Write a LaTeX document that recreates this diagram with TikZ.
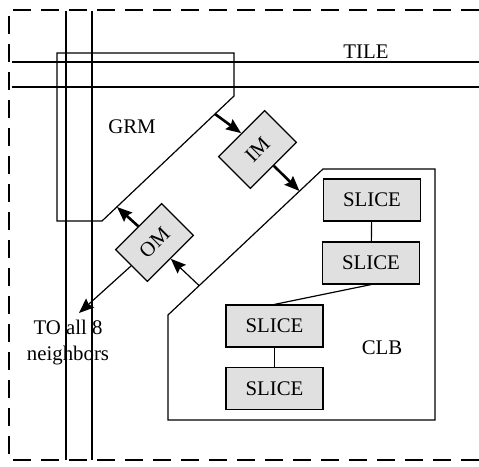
\documentclass[tikz,border=0pt]{standalone}
\usepackage{fontspec}
\setmainfont{Liberation Serif}
\usetikzlibrary{arrows.meta}

\begin{document}
\begin{tikzpicture}[x=0.5pt, y=-0.5pt, line width=0.6pt,
    every node/.style={font=\fontsize{10.4}{13}\selectfont},
    mod/.style={draw, fill=black!12, minimum width=32.5pt, minimum height=22.5pt, inner sep=0pt},
    slice/.style={draw, fill=black!12, minimum width=48.5pt, minimum height=21pt, inner sep=0pt},
    bus/.style={-{Stealth[length=7.5pt, width=6pt, inset=1pt]}, line width=1.3pt},
    link/.style={-{Stealth[length=7.5pt, width=6pt, inset=1pt]}}]
    % Keep the reference proportions (tile is open at the right)
    \useasboundingbox (0,0) rectangle (479,467);

    % Tile border
    \draw[dash pattern=on 9pt off 5pt] (479,10) -- (9,10) -- (9,460) -- (479,460);
    \node at (366,52) {TILE};

    % Routing wires
    \draw (66,11) -- (66,460);
    \draw (92,11) -- (92,460);
    \draw (12,62) -- (479,62);
    \draw (12,87) -- (479,87);

    % GRM outline
    \draw (57,53) -- (234,53) -- (234,96) -- (102,221) -- (57,221) -- cycle;
    \node at (132,127) {GRM};

    % CLB outline
    \draw (323,169) -- (435,169) -- (435,420) -- (168,420) -- (168,315) -- cycle;
    \node at (382,348) {CLB};

    % Input and output muxes
    \node[mod, rotate=45] (im) at (257.5,149.5) {IM};
    \node[mod, rotate=45] (om) at (154.5,242.5) {OM};

    % Slices
    \node[slice] (s1) at (372,200) {SLICE};
    \node[slice] (s2) at (371,263) {SLICE};
    \node[slice] (s3) at (274.5,326) {SLICE};
    \node[slice] (s4) at (274.5,388.5) {SLICE};
    \draw (s1) -- (s2);
    \draw (s2.south) -- (s3.north);
    \draw (s3) -- (s4);

    % Ends on the GRM and CLB edges
    \coordinate (grmin) at (215,114);
    \coordinate (clbin) at (299.5,191);
    \coordinate (grmout) at (117,207);
    \coordinate (clbout) at (199,285.5);
    \coordinate (nbr) at (79,313);

    \draw[bus] (grmin) -- (im.north);
    \draw[bus] (im.south) -- (clbin);
    \draw[bus] (om.north) -- (grmout);
    \draw[link] (clbout) -- (om.south);
    \draw[link] (om.west) -- (nbr);

    \node[align=center] (tolbl) at (68,343) {TO all 8\\neighbors};
\end{tikzpicture}
\end{document}
